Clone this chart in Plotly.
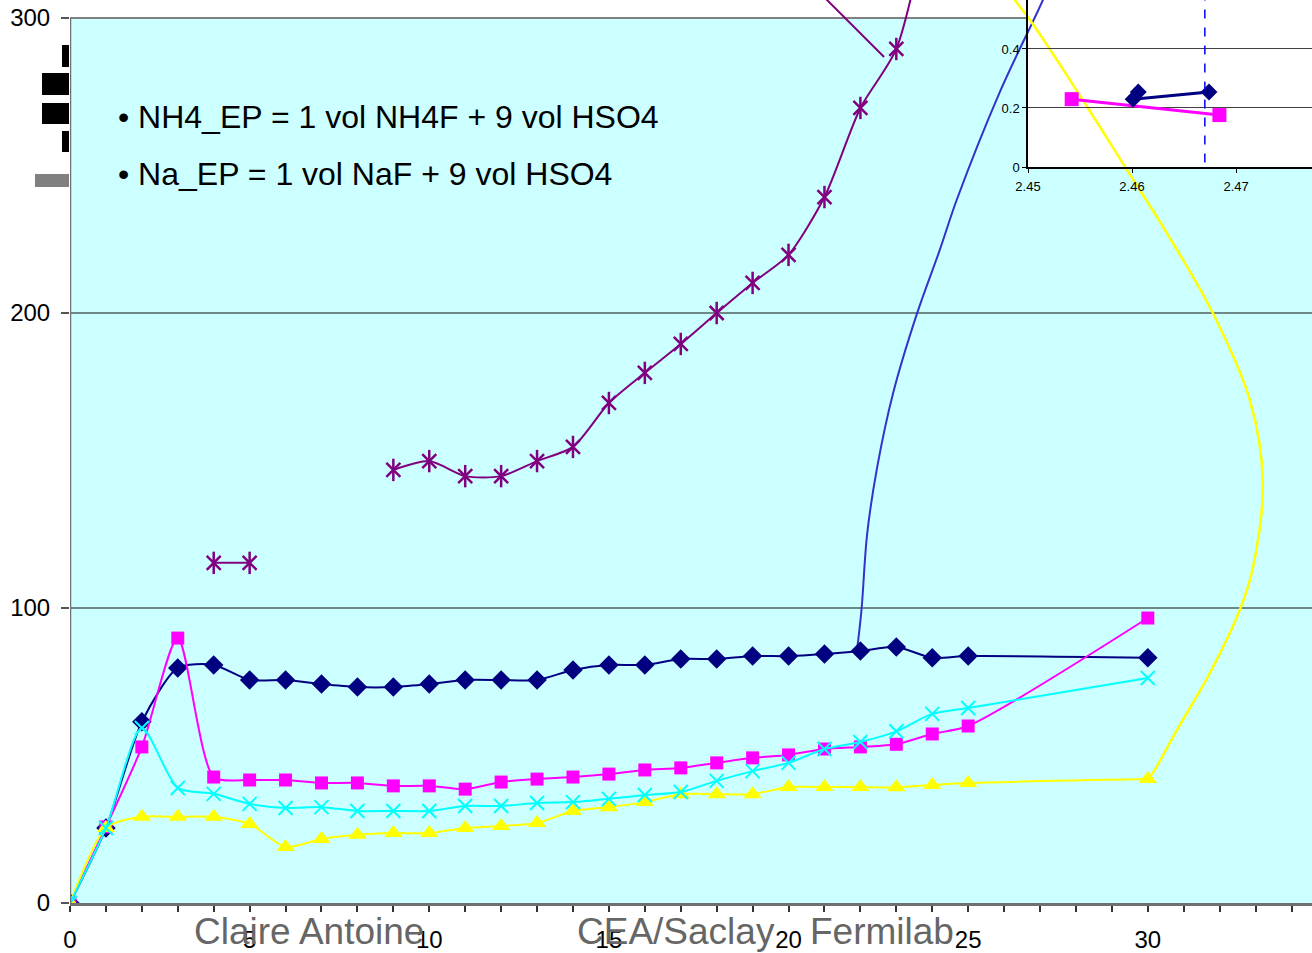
import plotly.graph_objects as go

# ---------------- data ----------------
x_main = list(range(0, 26)) + [30]

navy_y = [0, 25.4, 61.4, 79.7, 80.7, 75.6, 75.6, 74.2, 73.2, 73.2, 74.2, 75.6, 75.6,
          75.6, 79.0, 80.7, 80.7, 82.7, 82.7, 83.7, 83.7, 84.4, 85.4, 86.8, 83.1, 83.7, 83.1]
magenta_y = [0, 25.8, 52.9, 89.8, 42.7, 41.7, 41.7, 40.7, 40.7, 39.7, 39.7, 38.6, 41.0,
             42.0, 42.7, 43.7, 45.1, 45.8, 47.5, 49.2, 50.2, 52.2, 52.9, 53.8, 57.3, 60.0, 96.6]
yellow_y = [0, 25.4, 29.2, 29.2, 29.2, 26.8, 19.0, 21.7, 23.1, 23.7, 23.7, 25.4, 26.1,
            27.1, 31.2, 32.5, 34.2, 36.9, 36.9, 36.9, 39.3, 39.3, 39.3, 39.2, 40.0, 40.7, 42.0]
cyan_y = [0, 25.4, 59.3, 39.0, 37.0, 33.6, 32.2, 32.5, 31.2, 31.2, 31.2, 32.9, 32.9,
          33.9, 34.2, 35.3, 36.6, 37.6, 41.4, 44.7, 47.5, 52.2, 54.6, 58.2, 64.1, 66.1, 76.3]

purple_x = [4, 5, 7, 9, 10, 11, 12, 13, 14, 15, 16, 17, 18, 19, 20, 21, 22, 23, 24]
purple_y = [115.3, 115.3, None, 146.8, 149.8, 144.7, 144.7, 149.8, 154.6, 169.5, 179.7,
            189.5, 200.0, 210.2, 219.7, 239.3, 269.5, 289.5, 340.0]

# free-running smoothed curves
blue_x = [21.90, 22.03, 22.19, 22.47, 22.91, 23.57, 24.21, 24.68, 25.88, 27.08, 27.55]
blue_y = [85.2, 99.3, 125.3, 147.9, 172.8, 199.6, 221.4, 238.3, 274.9, 306.1, 319.7]

yellow_tail_x = [30.0, 30.14, 30.81, 31.73, 32.56, 32.93, 33.20, 32.84, 31.81, 30.53,
                 29.42, 28.19, 26.72, 25.9]
yellow_tail_y = [42.0, 44.1, 58.6, 78.0, 99.3, 113.9, 143.4, 170.5, 200.0, 227.1,
                 248.5, 272.2, 299.3, 312.0]

purple_stub_x = [20.89, 22.66]
purple_stub_y = [308.3, 286.8]

# inset series
inset_navy_x = [2.4606, 2.4601, 2.4674]
inset_navy_y = [0.254, 0.230, 0.254]
inset_mag_x = [2.4542, 2.4684]
inset_mag_y = [0.230, 0.176]
inset_marker_x = 2.4670

main_yticks = [0, 100, 200, 300]
main_grid = [100, 200]
inset_xticks = [2.45, 2.46, 2.47]
inset_yticks = [0, 0.2, 0.4]

# ---------------- geometry helpers ----------------
W, H = 1312, 953
ML, MB = 70, 50
PW, PH = W - ML, H - MB


def px_x(px):
    return (px - ML) / PW


def px_y(py):
    return (PH - py) / PH


FONT = "Liberation Sans, Arial, sans-serif"
NAVY, MAG, CYAN, YEL, PURP, BLUE = "#000080", "#FF00FF", "#00FFFF", "#FFFF00", "#800080", "#3333CC"

fig = go.Figure()

fig.add_trace(go.Scatter(x=blue_x, y=blue_y, mode="lines",
                         line=dict(color=BLUE, width=2, shape="spline", smoothing=1.0)))
fig.add_trace(go.Scatter(x=yellow_tail_x, y=yellow_tail_y, mode="lines",
                         line=dict(color=YEL, width=2.5, shape="spline", smoothing=1.0)))
fig.add_trace(go.Scatter(x=purple_stub_x, y=purple_stub_y, mode="lines",
                         line=dict(color=PURP, width=2)))

fig.add_trace(go.Scatter(x=x_main, y=navy_y, mode="lines+markers",
                         line=dict(color=NAVY, width=2, shape="spline", smoothing=0.7),
                         marker=dict(symbol="diamond", size=15, color=NAVY)))
fig.add_trace(go.Scatter(x=x_main, y=magenta_y, mode="lines+markers",
                         line=dict(color=MAG, width=2, shape="spline", smoothing=0.7),
                         marker=dict(symbol="square", size=13, color=MAG)))
fig.add_trace(go.Scatter(x=x_main, y=yellow_y, mode="lines+markers",
                         line=dict(color=YEL, width=2, shape="spline", smoothing=0.7),
                         marker=dict(symbol="triangle-up", size=16, color=YEL)))
fig.add_trace(go.Scatter(x=x_main, y=cyan_y, mode="lines+markers",
                         line=dict(color=CYAN, width=2, shape="spline", smoothing=0.7),
                         marker=dict(symbol="x-thin-open", size=14, color=CYAN,
                                     line=dict(color=CYAN, width=2))))
fig.add_trace(go.Scatter(x=purple_x, y=purple_y, mode="lines+markers", connectgaps=False,
                         line=dict(color=PURP, width=2, shape="spline", smoothing=0.7),
                         marker=dict(symbol="x-thin-open", size=14, color=PURP,
                                     line=dict(color=PURP, width=2.5))))
fig.add_trace(go.Scatter(x=purple_x, y=purple_y, mode="markers",
                         marker=dict(symbol="line-ns-open", size=16, color=PURP,
                                     line=dict(color=PURP, width=2.5))))

# inset
fig.add_trace(go.Scatter(x=inset_mag_x, y=inset_mag_y, mode="lines+markers",
                         xaxis="x2", yaxis="y2",
                         line=dict(color=MAG, width=3),
                         marker=dict(symbol="square", size=14, color=MAG)))
fig.add_trace(go.Scatter(x=inset_navy_x, y=inset_navy_y, mode="lines+markers",
                         xaxis="x2", yaxis="y2",
                         line=dict(color=NAVY, width=3),
                         marker=dict(symbol="diamond", size=13, color=NAVY)))

shapes = [
    dict(type="rect", xref="paper", yref="y", x0=0, x1=1, y0=0, y1=300,
         fillcolor="#CCFFFF", line=dict(width=0), layer="below"),
    dict(type="rect", xref="paper", yref="paper", x0=px_x(1028), x1=1, y0=px_y(167), y1=1,
         fillcolor="white", line=dict(width=0), layer="below"),
    dict(type="line", xref="paper", yref="y", x0=0, x1=px_x(1028), y0=300, y1=300,
         line=dict(color="#808080", width=2), layer="below"),
    dict(type="line", xref="x", yref="y", x0=0, x1=0, y0=0, y1=300,
         line=dict(color="#707070", width=2.5)),
    dict(type="line", xref="x2", yref="y2", x0=inset_marker_x, x1=inset_marker_x,
         y0=0.015, y1=0.566, line=dict(color="#0000FF", width=1.5, dash="dash")),
]
for g in main_grid:
    shapes.append(dict(type="line", xref="paper", yref="y", x0=0, x1=1, y0=g, y1=g,
                       line=dict(color="#101010", width=1), layer="below"))

# blocks at the left edge
for (x0, x1, y0, y1, c) in [(62, 69, 45, 67, "black"), (42, 69, 73, 95, "black"),
                            (42, 69, 103, 124, "black"), (62, 69, 131, 152, "black"),
                            (35, 69, 174, 187, "#808080")]:
    shapes.append(dict(type="rect", xref="paper", yref="paper",
                       x0=px_x(x0), x1=px_x(x1), y0=px_y(y1), y1=px_y(y0),
                       fillcolor=c, line=dict(width=0)))

annotations = [
    dict(text="• NH4_EP = 1 vol NH4F + 9 vol HSO4", xref="paper", yref="paper",
         x=px_x(116), y=px_y(117), xanchor="left", yanchor="middle", showarrow=False,
         font=dict(family=FONT, size=32, color="black")),
    dict(text="• Na_EP = 1 vol NaF + 9 vol HSO4", xref="paper", yref="paper",
         x=px_x(116), y=px_y(174), xanchor="left", yanchor="middle", showarrow=False,
         font=dict(family=FONT, size=32, color="black")),
]
for txt, cx in [("Claire Antoine", 309), ("CEA/Saclay", 676), ("Fermilab", 882)]:
    annotations.append(dict(text=txt, xref="paper", yref="paper", x=px_x(cx), y=px_y(931),
                            xanchor="center", yanchor="middle", showarrow=False,
                            font=dict(family=FONT, size=37, color="#666666")))

fig.update_layout(
    width=W, height=H,
    margin=dict(l=ML, r=0, t=0, b=MB, pad=0),
    paper_bgcolor="white", plot_bgcolor="rgba(0,0,0,0)",
    showlegend=False,
    font=dict(family=FONT, color="black"),
    shapes=shapes, annotations=annotations,
    xaxis=dict(domain=[0, 1], range=[0, 34.57], tickmode="linear", tick0=0, dtick=5,
               automargin=False,
               ticks="outside", ticklen=6, tickwidth=1.5, tickcolor="#333333",
               showline=True, linecolor="#707070", linewidth=2.5,
               showgrid=False, zeroline=False,
               tickfont=dict(family=FONT, size=24, color="black"),
               ticklabelstandoff=7,
               minor=dict(dtick=1, tick0=0, ticks="outside", ticklen=6, tickwidth=1.5,
                          tickcolor="#333333", showgrid=False)),
    yaxis=dict(domain=[0, 1], range=[0, PH / 2.95], tickmode="array", tickvals=main_yticks,
               automargin=False,
               ticks="outside", ticklen=8, tickwidth=1.5, tickcolor="#555555",
               showline=False, showgrid=False, zeroline=False,
               tickfont=dict(family=FONT, size=24, color="black"),
               ticklabelstandoff=6),
    xaxis2=dict(domain=[px_x(1028), 1], anchor="y2", range=[2.45, 2.4773],
                automargin=False,
                tickmode="array", tickvals=inset_xticks,
                ticktext=[f"{v:.2f}" for v in inset_xticks],
                ticks="outside", ticklen=4, tickcolor="black",
                showline=True, linecolor="black", linewidth=1.5,
                showgrid=False, zeroline=False, ticklabelstandoff=3,
                tickfont=dict(family=FONT, size=13, color="black")),
    yaxis2=dict(domain=[px_y(167), 1], anchor="x2", range=[0, 0.566],
                automargin=False,
                tickmode="array", tickvals=inset_yticks, ticktext=["0", "0.2", "0.4"],
                ticks="outside", ticklen=4, tickcolor="black",
                showline=True, linecolor="black", linewidth=1.5,
                showgrid=True, gridcolor="#404040", gridwidth=1, zeroline=False,
                tickfont=dict(family=FONT, size=13, color="black")),
)

fig.write_html("out.html")
